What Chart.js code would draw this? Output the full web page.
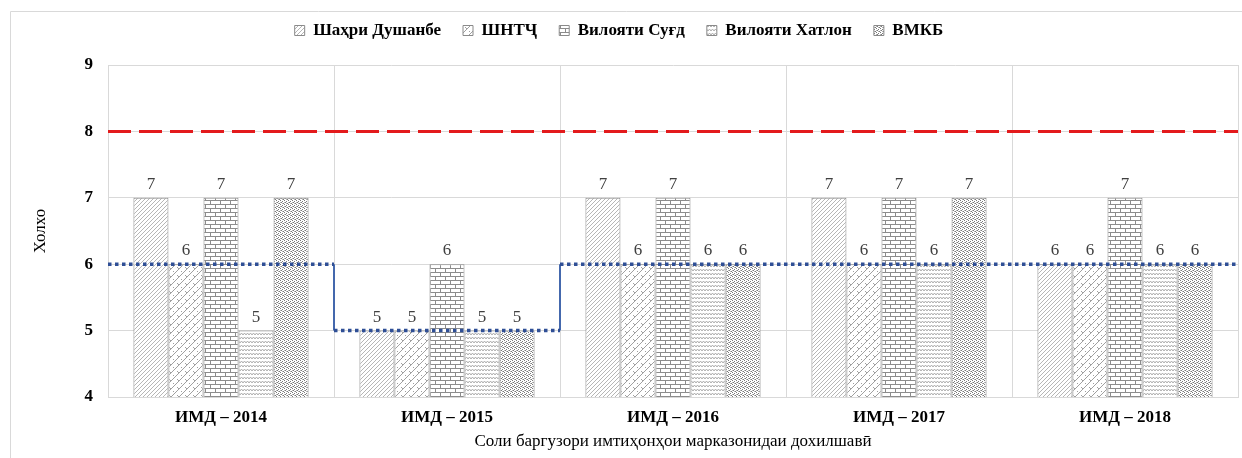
<!DOCTYPE html>
<html>
<head>
<meta charset="utf-8">
<script src="https://cdn.jsdelivr.net/npm/chart.js@4.4.0/dist/chart.umd.min.js"></script>
<style>
    html, body { margin: 0; padding: 0; background: #ffffff; }
    canvas { display: block; }
</style>
</head>
<body>
<canvas id="examChart" width="1242" height="458"></canvas>
<script>
// --- data ---
const years = ["ИМД – 2014", "ИМД – 2015", "ИМД – 2016", "ИМД – 2017", "ИМД – 2018"];
const seriesNames = ["Шаҳри Душанбе", "ШНТҶ", "Вилояти Суғд", "Вилояти Хатлон", "ВМКБ"];
const dushanbe = [7, 5, 7, 7, 6];
const shntj = [6, 5, 6, 6, 6];
const sughd = [7, 6, 7, 7, 7];
const khatlon = [5, 5, 6, 6, 6];
const vmkb = [7, 5, 6, 7, 6];
const averageLevel = [6, 5, 6, 6, 6];
const thresholdLevel = 8;
const yMin = 4;
const yMax = 9;

const SERIF = "'Liberation Serif', 'DejaVu Serif', serif";

// hatch patterns, like the Excel fills
function makePattern(w, h, draw) {
    const c = document.createElement("canvas");
    c.width = w;
    c.height = h;
    const g = c.getContext("2d");
    g.fillStyle = "#ffffff";
    g.fillRect(0, 0, w, h);
    draw(g);
    return g.createPattern(c, "repeat");
}

const fineDiagonal = makePattern(4, 4, function (g) {
    g.strokeStyle = "#a3a3a3";
    g.lineWidth = 0.8;
    g.beginPath();
    g.moveTo(0, 4); g.lineTo(4, 0);
    g.moveTo(-1, 1); g.lineTo(1, -1);
    g.moveTo(3, 5); g.lineTo(5, 3);
    g.stroke();
});

const weave = makePattern(8, 8, function (g) {
    g.strokeStyle = "#a0a0a0";
    g.lineWidth = 1;
    g.beginPath();
    g.moveTo(0, 8); g.lineTo(8, 0);
    g.moveTo(-1, 1); g.lineTo(1, -1);
    g.moveTo(7, 9); g.lineTo(9, 7);
    g.moveTo(1, 3); g.lineTo(3, 5);
    g.moveTo(5, 7); g.lineTo(7, 9);
    g.stroke();
});

const bricks = makePattern(10, 8, function (g) {
    g.strokeStyle = "#8c8c8c";
    g.lineWidth = 1;
    g.beginPath();
    g.moveTo(0, 0.5); g.lineTo(10, 0.5);
    g.moveTo(0, 4.5); g.lineTo(10, 4.5);
    g.moveTo(0.5, 0); g.lineTo(0.5, 4.5);
    g.moveTo(5.5, 4.5); g.lineTo(5.5, 8);
    g.stroke();
});

const waves = makePattern(6, 4, function (g) {
    g.strokeStyle = "#a6a6a6";
    g.lineWidth = 0.9;
    g.beginPath();
    g.moveTo(0, 3); g.lineTo(1.5, 1); g.lineTo(3, 3); g.lineTo(4.5, 1); g.lineTo(6, 3);
    g.stroke();
});

const dots = makePattern(4, 4, function (g) {
    g.fillStyle = "#7a7a7a";
    g.fillRect(0, 0, 1, 1);
    g.fillRect(2, 1, 1, 1);
    g.fillRect(1, 2, 1, 1);
    g.fillRect(3, 3, 1, 1);
    g.fillStyle = "#b5b5b5";
    g.fillRect(2, 3, 1, 1);
    g.fillRect(0, 2, 1, 1);
});

const seriesValues = [dushanbe, shntj, sughd, khatlon, vmkb];
const seriesFills = [fineDiagonal, weave, bricks, waves, dots];

const barDatasets = seriesNames.map((name, i) => ({
    label: name,
    data: seriesValues[i],
    backgroundColor: seriesFills[i],
    borderColor: "#8a8a8a",
    borderWidth: 1,
    borderSkipped: false,
}));

// light frame round the chart, as in the Excel export
const framePlugin = {
    id: "frame",
    beforeDraw(chart) {
        const c = chart.ctx;
        c.save();
        c.strokeStyle = "#d9d9d9";
        c.lineWidth = 1;
        c.beginPath();
        c.moveTo(10.5, chart.height);
        c.lineTo(10.5, 11.5);
        c.lineTo(chart.width, 11.5);
        c.stroke();
        c.restore();
    },
};

// threshold line and stepped average line, placed through the chart's scales
const guideLines = {
    id: "guideLines",
    afterDatasetsDraw(chart) {
        const c = chart.ctx;
        const xs = chart.scales.x;
        const ys = chart.scales.y;
        const half = (xs.getPixelForValue(1) - xs.getPixelForValue(0)) / 2;
        const left = (i) => xs.getPixelForValue(i) - half;
        const right = (i) => xs.getPixelForValue(i) + half;
        const n = years.length;

        c.save();
        // red dashed threshold
        c.strokeStyle = "#e31a1c";
        c.lineWidth = 3;
        c.setLineDash([23, 8]);
        c.beginPath();
        c.moveTo(left(0), ys.getPixelForValue(thresholdLevel));
        c.lineTo(right(n - 1), ys.getPixelForValue(thresholdLevel));
        c.stroke();

        // thin solid risers where the average changes
        c.setLineDash([]);
        c.strokeStyle = "#4468ad";
        c.lineWidth = 2;
        for (let i = 1; i < n; i++) {
            if (averageLevel[i] !== averageLevel[i - 1]) {
                c.beginPath();
                c.moveTo(left(i), ys.getPixelForValue(averageLevel[i - 1]));
                c.lineTo(left(i), ys.getPixelForValue(averageLevel[i]));
                c.stroke();
            }
        }

        // dotted level across each year
        c.strokeStyle = "#2f4f96";
        c.lineWidth = 3.5;
        c.setLineDash([3.5, 3.5]);
        let start = 0;
        for (let i = 1; i <= n; i++) {
            if (i === n || averageLevel[i] !== averageLevel[start]) {
                const y = ys.getPixelForValue(averageLevel[start]);
                c.beginPath();
                c.moveTo(left(start), y);
                c.lineTo(right(i - 1), y);
                c.stroke();
                start = i;
            }
        }
        c.restore();
    },
};

// value numbers above each bar
const valueLabels = {
    id: "valueLabels",
    afterDatasetsDraw(chart) {
        const c = chart.ctx;
        c.save();
        c.font = "17px " + SERIF;
        c.fillStyle = "#404040";
        c.textAlign = "center";
        c.textBaseline = "bottom";
        chart.data.datasets.forEach((ds, di) => {
            chart.getDatasetMeta(di).data.forEach((bar, i) => {
                c.fillText(ds.data[i], bar.x, bar.y - 5);
            });
        });
        c.restore();
    },
};

// fix the legend band height so the plot top sits where it does in the picture
const legendHeight = {
    id: "legendHeight",
    beforeInit(chart) {
        const fit = chart.legend.fit;
        chart.legend.fit = function () {
            fit.bind(chart.legend)();
            this.height = 65;
        };
    },
};

document.addEventListener("DOMContentLoaded", function () {
    const ctx = document.getElementById("examChart").getContext("2d");
    new Chart(ctx, {
        type: "bar",
        data: {
            labels: years,
            datasets: barDatasets,
        },
        options: {
            responsive: false,
            animation: false,
            layout: { padding: { left: 0, right: 4, top: 0, bottom: 0 } },
            categoryPercentage: 0.775,
            barPercentage: 1.0,
            plugins: {
                tooltip: { enabled: false },
                legend: {
                    position: "top",
                    labels: {
                        boxWidth: 10,
                        boxHeight: 10,
                        padding: 22,
                        color: "#000000",
                        font: { family: SERIF, size: 17, weight: "bold" },
                    },
                },
            },
            scales: {
                x: {
                    grid: { color: "#d9d9d9", offset: true, drawTicks: false },
                    border: { color: "#d9d9d9" },
                    ticks: {
                        padding: 10,
                        color: "#000000",
                        font: { family: SERIF, size: 17, weight: "bold" },
                    },
                    title: {
                        display: true,
                        text: "Соли баргузори имтиҳонҳои марказонидаи дохилшавӣ",
                        color: "#000000",
                        font: { family: SERIF, size: 17 },
                        padding: { top: 0, bottom: 6 },
                    },
                    afterFit: (scale) => { scale.height = 61; },
                },
                y: {
                    min: yMin,
                    max: yMax,
                    grid: { color: "#d9d9d9", drawTicks: false },
                    border: { color: "#d9d9d9" },
                    ticks: {
                        stepSize: 1,
                        padding: 15,
                        color: "#000000",
                        font: { family: SERIF, size: 17, weight: "bold" },
                    },
                    title: {
                        display: true,
                        text: "Холхо",
                        color: "#000000",
                        font: { family: SERIF, size: 17 },
                        padding: { top: 30, bottom: 0 },
                    },
                    afterFit: (scale) => { scale.width = 108; },
                },
            },
        },
        plugins: [framePlugin, legendHeight, guideLines, valueLabels],
    });
});
</script>
</body>
</html>
